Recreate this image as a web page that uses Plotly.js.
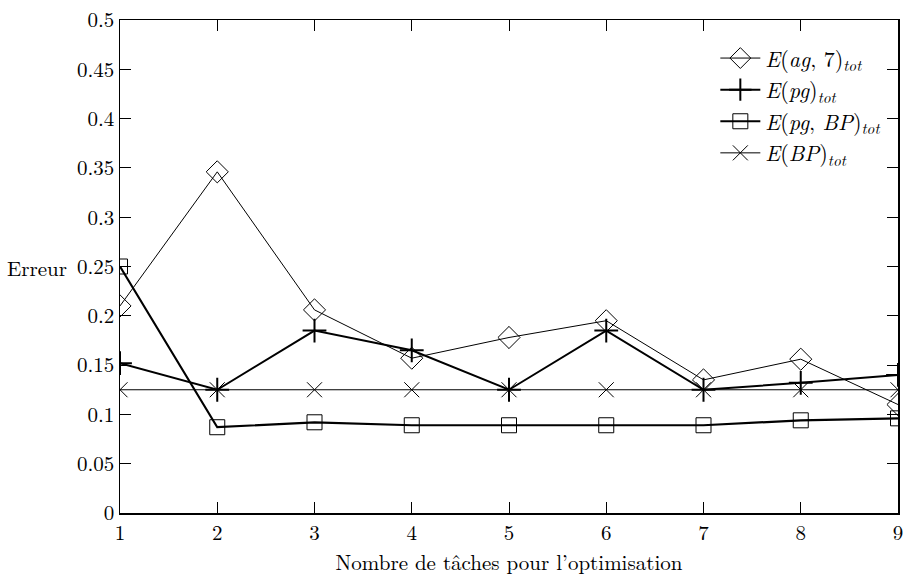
<!DOCTYPE html>
<html>
<head>
<meta charset="utf-8">
<script src="https://cdn.plot.ly/plotly-3.0.1.min.js"></script>
<style>html,body{margin:0;padding:0;background:#fff;}#chart{width:903px;height:579px;}</style>
</head>
<body>
<div id="chart"></div>
<script>
const tasks = [1, 2, 3, 4, 5, 6, 7, 8, 9];
const eAg7 = [0.21, 0.346, 0.206, 0.157, 0.178, 0.195, 0.135, 0.156, 0.11];
const ePg = [0.152, 0.125, 0.185, 0.165, 0.125, 0.185, 0.125, 0.132, 0.14];
const ePgBp = [0.25, 0.087, 0.092, 0.089, 0.089, 0.089, 0.089, 0.094, 0.096];
const eBp = [0.125, 0.125, 0.125, 0.125, 0.125, 0.125, 0.125, 0.125, 0.125];
const seriesNames = ['<i>E</i>(<i>ag</i>, 7)<sub><i>tot</i></sub>', '<i>E</i>(<i>pg</i>)<sub><i>tot</i></sub>', '<i>E</i>(<i>pg</i>, <i>BP</i>)<sub><i>tot</i></sub>', '<i>E</i>(<i>BP</i>)<sub><i>tot</i></sub>'];
const yTicks = [0, 0.05, 0.1, 0.15, 0.2, 0.25, 0.3, 0.35, 0.4, 0.45, 0.5];
const yTickText = ['0', '0.05', '0.1', '0.15', '0.2', '0.25', '0.3', '0.35', '0.4', '0.45', '0.5'];

const font = 'Latin Modern Roman, "DejaVu Serif", "Liberation Serif", serif';
const traces = [
  {x: tasks, y: eAg7, name: seriesNames[0], mode: 'lines+markers',
   line: {color: '#000', width: 1},
   marker: {symbol: 'diamond-open', size: 17, color: '#000', line: {width: 1, color: '#000'}}},
  {x: tasks, y: ePg, name: seriesNames[1], mode: 'lines+markers',
   line: {color: '#000', width: 2},
   marker: {symbol: 'cross-thin-open', size: 17, color: '#000', line: {width: 2, color: '#000'}}},
  {x: tasks, y: ePgBp, name: seriesNames[2], mode: 'lines+markers',
   line: {color: '#000', width: 2.2},
   marker: {symbol: 'square-open', size: 15, color: '#000', line: {width: 1, color: '#000'}}},
  {x: tasks, y: eBp, name: seriesNames[3], mode: 'lines+markers',
   line: {color: '#000', width: 1},
   marker: {symbol: 'x-thin-open', size: 15, color: '#000', line: {width: 1, color: '#000'}}}
];

const layout = {
  width: 903, height: 579,
  margin: {l: 120, r: 5, t: 20, b: 66},
  paper_bgcolor: '#fff', plot_bgcolor: '#fff',
  font: {family: font, size: 21, color: '#000'},
  showlegend: true,
  legend: {x: 0.985, y: 0.965, xanchor: 'right', yanchor: 'top', bgcolor: 'rgba(0,0,0,0)',
           font: {family: font, size: 22, color: '#000'}, tracegroupgap: 0, itemwidth: 40},
  xaxis: {range: [1, 9], tickvals: tasks, ticks: 'inside', ticklen: 11, tickcolor: '#000',
          showline: true, linecolor: '#000', linewidth: 1.5, mirror: 'ticks', showgrid: false, zeroline: false,
          tickfont: {family: font, size: 21}, ticklabeloverflow: 'allow', automargin: false,
          title: {text: 'Nombre de tâches pour l\u2019optimisation', font: {family: font, size: 21}, standoff: 0}},
  yaxis: {range: [0, 0.5], tickvals: yTicks, ticktext: yTickText, ticks: 'inside', ticklen: 11, tickcolor: '#000',
          showline: true, linecolor: '#000', linewidth: 1.5, mirror: 'ticks', showgrid: false, zeroline: false,
          tickfont: {family: font, size: 21}, automargin: false},
  annotations: [{text: 'Erreur', xref: 'paper', yref: 'y', x: -0.148, y: 0.25, xanchor: 'left', yanchor: 'middle',
                 showarrow: false, font: {family: font, size: 21, color: '#000'}}]
};
Plotly.newPlot('chart', traces, layout, {displayModeBar: false, staticPlot: true});
</script>
</body>
</html>
